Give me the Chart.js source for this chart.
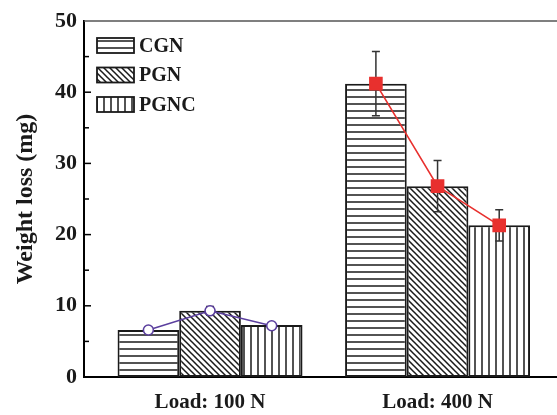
<!DOCTYPE html>
<html>
<head>
<meta charset="utf-8">
<script src="https://cdn.jsdelivr.net/npm/chart.js@4.4.1/dist/chart.umd.min.js"></script>
<style>
html, body { margin: 0; padding: 0; background: #fff; overflow: hidden; }
</style>
</head>
<body>
<canvas id="weight_loss" width="557" height="415"></canvas>
<script>
var loads = ["Load: 100 N", "Load: 400 N"];
var samples = ["CGN", "PGN", "PGNC"];
var cgn = [6.6, 41.2];
var pgn = [9.3, 26.8];
var pgnc = [7.3, 21.3];
var cgn_err = [0.3, 4.5];
var pgn_err = [0.6, 3.6];
var pgnc_err = [0.3, 2.2];
var line_100 = [6.6, 9.3, 7.2];
var line_400 = [41.2, 26.8, 21.3];

var serif = "'Liberation Serif', 'Times New Roman', serif";
var cat_pct = 0.813;

var ctx = document.getElementById("weight_loss").getContext("2d");

function make_hatch(kind) {
    var s = kind == "d" ? 6 : 7;
    var c = document.createElement("canvas");
    c.width = s;
    c.height = s;
    var g = c.getContext("2d");
    g.fillStyle = "#fff";
    g.fillRect(0, 0, s, s);
    g.strokeStyle = "#1a1a1a";
    g.lineWidth = 1.5;
    g.beginPath();
    if (kind == "h") {
        g.moveTo(0, s - 1); g.lineTo(s, s - 1);
    } else if (kind == "v") {
        g.moveTo(s - 1, 0); g.lineTo(s - 1, s);
    } else {
        g.moveTo(-1, -1); g.lineTo(s + 1, s + 1);
        g.moveTo(-1, s - 1); g.lineTo(1, s + 1);
        g.moveTo(s - 1, -1); g.lineTo(s + 1, 1);
    }
    g.stroke();
    return ctx.createPattern(c, "repeat");
}

function bar_points(vals) {
    return vals.map(function (v, i) { return {x: i + 1, y: v}; });
}

// line points sit on the bar centres of one load group
function line_points(vals, group) {
    return vals.map(function (v, j) {
        return {x: group + (j - 1) * cat_pct / 3, y: v};
    });
}

var errors = [cgn_err, pgn_err, pgnc_err];

var extras = {
    id: "extras",
    afterDatasetDraw: function (chart, args) {
        if (args.meta.type != "bar" || args.index != 0) return;
        var c = chart.ctx, ys = chart.scales.y;
        c.save();
        c.strokeStyle = "#333";
        c.lineWidth = 1.5;
        for (var k = 0; k < 3; k++) {
            var meta = chart.getDatasetMeta(k);
            var vals = chart.data.datasets[k].data;
            meta.data.forEach(function (el, i) {
                var v = vals[i].y, e = errors[k][i];
                var yt = ys.getPixelForValue(v + e), yb = ys.getPixelForValue(v - e);
                c.beginPath();
                c.moveTo(el.x, yt); c.lineTo(el.x, yb);
                c.moveTo(el.x - 4, yt); c.lineTo(el.x + 4, yt);
                c.moveTo(el.x - 4, yb); c.lineTo(el.x + 4, yb);
                c.stroke();
            });
        }
        c.restore();
    },
    afterDraw: function (chart) {
        var c = chart.ctx, a = chart.chartArea, ys = chart.scales.y;
        c.save();
        // top frame line
        c.strokeStyle = "#555";
        c.lineWidth = 1.5;
        c.beginPath();
        c.moveTo(a.left, a.top); c.lineTo(chart.width, a.top);
        c.stroke();
        // inward ticks on y axis
        c.strokeStyle = "#000";
        c.lineWidth = 1.5;
        for (var t = 5; t < 50; t += 5) {
            var y = ys.getPixelForValue(t);
            c.beginPath();
            c.moveTo(a.left, y); c.lineTo(a.left + (t % 10 == 0 ? 7 : 5), y);
            c.stroke();
        }
        // legend
        c.font = "bold 20px " + serif;
        c.textBaseline = "middle";
        for (var k = 0; k < 3; k++) {
            var ds = chart.data.datasets[k];
            var by = 38 + k * 29.5;
            c.fillStyle = ds.backgroundColor;
            c.fillRect(97, by, 37, 15);
            c.strokeStyle = "#1a1a1a";
            c.lineWidth = 1.8;
            c.strokeRect(97, by, 37, 15);
            c.fillStyle = "#1a1a1a";
            c.fillText(ds.label, 139, by + 8.5);
        }
        c.restore();
    }
};

var bar_style = {
    borderColor: "#1a1a1a",
    borderWidth: 2,
    borderSkipped: false,
    categoryPercentage: cat_pct,
    barPercentage: 1,
    order: 1
};

var data = {
    datasets: [
        Object.assign({type: "bar", label: samples[0], data: bar_points(cgn), backgroundColor: make_hatch("h")}, bar_style),
        Object.assign({type: "bar", label: samples[1], data: bar_points(pgn), backgroundColor: make_hatch("d")}, bar_style),
        Object.assign({type: "bar", label: samples[2], data: bar_points(pgnc), backgroundColor: make_hatch("v")}, bar_style),
        {
            type: "line",
            label: "100 N",
            data: line_points(line_100, 1),
            borderColor: "#5b3f9e",
            borderWidth: 1.6,
            pointStyle: "circle",
            pointRadius: 5,
            pointBorderWidth: 1.6,
            pointBackgroundColor: "#fff",
            pointBorderColor: "#5b3f9e",
            order: 0
        },
        {
            type: "line",
            label: "400 N",
            data: line_points(line_400, 2),
            borderColor: "#e8302e",
            borderWidth: 1.6,
            pointStyle: "rect",
            pointRadius: 8.5,
            pointBackgroundColor: "#e8302e",
            pointBorderColor: "#e8302e",
            order: 0
        }
    ]
};

var chart = new Chart(ctx, {
    type: "bar",
    data: data,
    plugins: [extras],
    options: {
        responsive: false,
        animation: false,
        devicePixelRatio: 1,
        layout: {autoPadding: false, padding: {top: 21, right: 0, left: 0, bottom: 0}},
        plugins: {legend: {display: false}, tooltip: {enabled: false}},
        scales: {
            x: {
                type: "linear",
                offset: false,
                min: 0.446,
                max: 2.525,
                afterBuildTicks: function (s) {
                    s.ticks = loads.map(function (l, i) { return {value: i + 1}; });
                },
                afterFit: function (s) {
                    s.height = 38;
                    s.paddingLeft = 0;
                    s.paddingRight = 0;
                },
                ticks: {
                    callback: function (v) { return loads[v - 1]; },
                    font: {family: serif, size: 21, weight: "bold"},
                    color: "#1a1a1a",
                    padding: 13,
                    autoSkip: false,
                    maxRotation: 0
                },
                grid: {display: false, drawTicks: false, offset: false},
                border: {display: true, color: "#000", width: 2}
            },
            y: {
                min: 0,
                max: 50,
                afterFit: function (s) {
                    s.width = 84;
                    s.paddingTop = 0;
                    s.paddingBottom = 0;
                },
                ticks: {
                    stepSize: 10,
                    font: {family: serif, size: 22, weight: "bold"},
                    color: "#1a1a1a",
                    padding: 7
                },
                grid: {display: false, drawTicks: false},
                border: {display: true, color: "#000", width: 2},
                title: {
                    display: true,
                    text: "Weight loss (mg)",
                    font: {family: serif, size: 24, weight: "bold"},
                    color: "#1a1a1a",
                    padding: {top: 11, bottom: 0}
                }
            }
        }
    }
});
</script>
</body>
</html>
